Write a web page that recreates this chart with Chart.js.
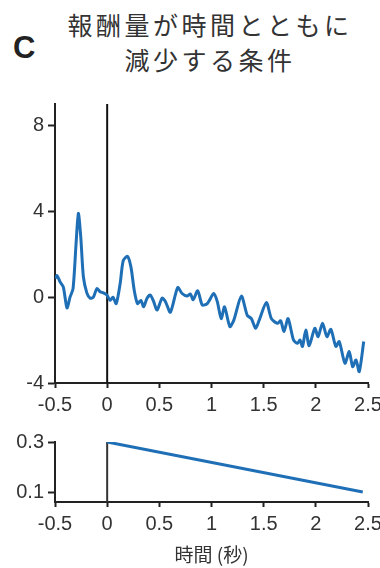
<!DOCTYPE html>
<html>
<head>
<meta charset="utf-8">
<script src="https://cdn.jsdelivr.net/npm/chart.js@4.4.0/dist/chart.umd.min.js"></script>
<style>
  body { margin: 0; background: #fff; width: 380px; height: 568px; overflow: hidden; position: relative; }
  .letter { position: absolute; left: 13px; top: 30px; font: bold 31px "Liberation Sans", Arial, sans-serif; color: #222; }
  .title { position: absolute; left: 40px; width: 340px; top: 7px; text-align: center; font: 25px "Noto Sans CJK JP", sans-serif; letter-spacing: 3.5px; line-height: 35px; color: #333; }
  #top { position: absolute; left: 0; top: 0; }
  #bottom { position: absolute; left: 0; top: 420px; }
</style>
</head>
<body>
<div class="letter">C</div>
<div class="title">報酬量が時間とともに<br>減少する条件</div>
<canvas id="top" width="380" height="420"></canvas>
<canvas id="bottom" width="380" height="148"></canvas>
<script>
// firing trace (top panel)
const traceX = [-0.5,-0.48,-0.45,-0.42,-0.385,-0.356,-0.327,-0.298,-0.276,-0.253,-0.228,-0.195,-0.163,-0.132,-0.099,-0.067,-0.038,-0.003,0.029,0.055,0.087,0.125,0.154,0.195,0.228,0.26,0.291,0.324,0.349,0.382,0.413,0.445,0.478,0.526,0.558,0.606,0.676,0.718,0.766,0.798,0.824,0.868,0.911,0.959,1.022,1.055,1.093,1.125,1.176,1.214,1.286,1.343,1.382,1.423,1.455,1.526,1.574,1.632,1.663,1.695,1.734,1.786,1.824,1.849,1.872,1.904,1.936,1.99,2.022,2.064,2.106,2.144,2.192,2.224,2.279,2.32,2.353,2.385,2.416,2.459];
const traceY = [0.88,1.0,0.7,0.47,-0.5,0,0.4,2.5,3.9,2.8,0.95,0.2,-0.05,0,0.4,0.25,0.2,0.1,-0.15,0,-0.3,0.65,1.7,1.9,1.4,0.3,-0.3,-0.15,-0.45,-0.05,0.1,-0.2,-0.6,-0.05,-0.2,-0.7,0.45,0.17,0.05,0.15,-0.12,0.3,-0.36,-0.3,0.17,-0.2,-1.0,-0.45,-1.37,-1.07,0.05,-0.85,-1.0,-1.45,-1.1,-0.25,-1.0,-1.22,-1.1,-1.6,-1.0,-2.0,-2.15,-2.0,-2.3,-1.53,-2.27,-1.45,-1.84,-1.22,-1.84,-1.5,-2.3,-2.07,-3.08,-2.54,-3.24,-2.93,-3.47,-2.07];
const topYTicks = [-4, 0, 4, 8];
const onsetY = [-4, 9];

// reward amount (bottom panel)
const rewardX = [0, 2.45];
const rewardY = [0.3, 0.1];
const bottomYTicks = [0.1, 0.3];
const onsetY2 = [0.06, 0.3];

const xTicks = [-0.5, 0, 0.5, 1, 1.5, 2, 2.5];
const blue = '#1f6fb6';
const tickFont = { family: '"Liberation Sans", Arial, sans-serif', size: 20 };

function toPoints(xs, ys) {
    return xs.map((x, i) => ({ x: x, y: ys[i] }));
}

function axisX(height, extra) {
    return Object.assign({
        type: 'linear', min: -0.5, max: 2.5,
        afterBuildTicks: s => { s.ticks = xTicks.map(v => ({ value: v })); },
        afterFit: s => { s.height = height; s.paddingLeft = 0; s.paddingRight = 0; },
        ticks: { color: '#333', font: tickFont, padding: 5, maxRotation: 0, callback: v => String(v) },
        grid: { drawOnChartArea: false, drawTicks: true, tickLength: 5, tickWidth: 2, color: '#222' },
        border: { display: true, color: '#222', width: 2 }
    }, extra);
}

function axisY(min, max, ticks) {
    return {
        type: 'linear', min: min, max: max,
        afterBuildTicks: s => { s.ticks = ticks.map(v => ({ value: v })); },
        afterFit: s => { s.width = 55; s.paddingTop = 0; s.paddingBottom = 0; },
        ticks: { color: '#333', font: tickFont, padding: 4, callback: v => String(v) },
        grid: { drawOnChartArea: false, drawTicks: true, tickLength: 7, tickWidth: 2, color: '#222' },
        border: { display: true, color: '#222', width: 2 }
    };
}

new Chart(document.getElementById('top'), {
    type: 'line',
    data: {
        datasets: [{
            data: toPoints(traceX, traceY),
            borderColor: blue, borderWidth: 3, pointRadius: 0, tension: 0.25
        }, {
            data: toPoints([0, 0], onsetY),
            borderColor: '#111', borderWidth: 2, pointRadius: 0
        }]
    },
    options: {
        responsive: false, animation: false,
        layout: { padding: { top: 104, right: 12, left: 0, bottom: 0 } },
        plugins: { legend: { display: false }, tooltip: { enabled: false } },
        scales: {
            x: axisX(37),
            y: axisY(-4, 9, topYTicks)
        }
    }
});

new Chart(document.getElementById('bottom'), {
    type: 'line',
    data: {
        datasets: [{
            data: toPoints(rewardX, rewardY),
            borderColor: blue, borderWidth: 3, pointRadius: 0
        }, {
            data: toPoints([0, 0], onsetY2),
            borderColor: '#333', borderWidth: 2, pointRadius: 0
        }]
    },
    options: {
        responsive: false, animation: false,
        layout: { padding: { top: 22, right: 12, left: 0, bottom: 0 } },
        plugins: { legend: { display: false }, tooltip: { enabled: false } },
        scales: {
            x: axisX(66, {
                title: { display: true, text: '時間 (秒)', color: '#333', font: { family: '"Noto Sans CJK JP", sans-serif', size: 19 }, padding: { top: 2, bottom: 2 } }
            }),
            y: axisY(0.06, 0.3, bottomYTicks)
        }
    }
});
</script>
</body>
</html>
